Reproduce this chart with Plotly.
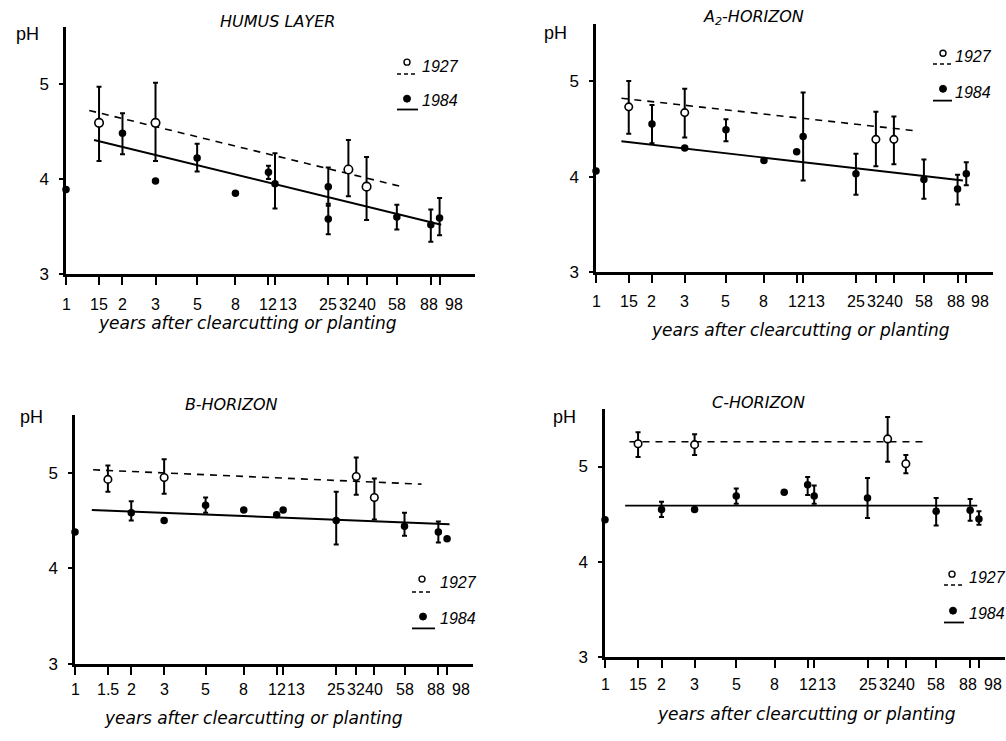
import math
import plotly.graph_objects as go

# ---------------- data ----------------
TICK_VALS = [1, 1.5, 2, 3, 5, 8, 12, 13, 25, 32, 40, 58, 88, 98]
TICK_TEXT = ["1", "15", "2", "3", "5", "8", "12", "13", "25", "32", "40", "58", "88", "98"]
TICK_TEXT_B = ["1", "1.5", "2", "3", "5", "8", "12", "13", "25", "32", "40", "58", "88", "98"]
Y_TICKS = [3, 4, 5]

# Humus layer
humus_1927_x = [1.5, 3, 32, 40]
humus_1927_y = [4.59, 4.59, 4.10, 3.92]
humus_1927_hi = [4.97, 5.01, 4.41, 4.23]
humus_1927_lo = [4.19, 4.19, 3.82, 3.57]
humus_1984_x = [1, 2, 3, 5, 8, 12, 13, 25, 25, 58, 88, 98]
humus_1984_y = [3.89, 4.48, 3.98, 4.22, 3.85, 4.07, 3.95, 3.92, 3.58, 3.60, 3.52, 3.59]
humus_1984_hi = [3.89, 4.69, 3.98, 4.37, 3.85, 4.14, 4.27, 4.12, 3.74, 3.73, 3.68, 3.80]
humus_1984_lo = [3.89, 4.26, 3.98, 4.08, 3.85, 4.00, 3.69, 3.72, 3.42, 3.47, 3.34, 3.41]
humus_fit27_x = [1.33, 61.5]
humus_fit27_y = [4.72, 3.92]
humus_fit84_x = [1.41, 100]
humus_fit84_y = [4.41, 3.52]

# A2-horizon
a2_1927_x = [1.5, 3, 32, 40]
a2_1927_y = [4.73, 4.67, 4.39, 4.39]
a2_1927_hi = [5.00, 4.92, 4.68, 4.63]
a2_1927_lo = [4.45, 4.41, 4.11, 4.13]
a2_1984_x = [1, 2, 3, 5, 8, 12, 13, 25, 58, 88, 98]
a2_1984_y = [4.06, 4.55, 4.30, 4.49, 4.17, 4.26, 4.42, 4.03, 3.97, 3.87, 4.03]
a2_1984_hi = [4.06, 4.75, 4.30, 4.60, 4.17, 4.26, 4.88, 4.24, 4.18, 4.02, 4.15]
a2_1984_lo = [4.06, 4.35, 4.30, 4.37, 4.17, 4.26, 3.96, 3.81, 3.77, 3.71, 3.91]
a2_fit27_x = [1.37, 52]
a2_fit27_y = [4.82, 4.48]
a2_fit84_x = [1.37, 94]
a2_fit84_y = [4.37, 3.96]

# B-horizon
b_1927_x = [1.5, 3, 32, 40]
b_1927_y = [4.93, 4.95, 4.96, 4.74]
b_1927_hi = [5.075, 5.14, 5.16, 4.94]
b_1927_lo = [4.80, 4.78, 4.77, 4.51]
b_1984_x = [1, 2, 3, 5, 8, 12, 13, 25, 58, 88, 98]
b_1984_y = [4.38, 4.58, 4.50, 4.66, 4.61, 4.56, 4.61, 4.50, 4.44, 4.38, 4.31]
b_1984_hi = [4.38, 4.70, 4.50, 4.74, 4.61, 4.56, 4.61, 4.80, 4.58, 4.49, 4.31]
b_1984_lo = [4.38, 4.50, 4.50, 4.58, 4.61, 4.56, 4.61, 4.25, 4.34, 4.27, 4.31]
b_fit27_x = [1.25, 71.5]
b_fit27_y = [5.03, 4.88]
b_fit84_x = [1.23, 101]
b_fit84_y = [4.61, 4.46]

# C-horizon
c_1927_x = [1.5, 3, 32, 40]
c_1927_y = [5.24, 5.23, 5.29, 5.03]
c_1927_hi = [5.36, 5.34, 5.52, 5.12]
c_1927_lo = [5.10, 5.12, 5.05, 4.93]
c_1984_x = [1, 2, 3, 5, 9, 12, 13, 25, 58, 88, 98]
c_1984_y = [4.44, 4.55, 4.55, 4.69, 4.73, 4.81, 4.69, 4.67, 4.53, 4.54, 4.45]
c_1984_hi = [4.44, 4.63, 4.55, 4.77, 4.73, 4.89, 4.80, 4.88, 4.67, 4.66, 4.53]
c_1984_lo = [4.44, 4.47, 4.55, 4.61, 4.73, 4.70, 4.61, 4.46, 4.38, 4.43, 4.39]
c_fit27_x = [1.35, 50]
c_fit27_y = [5.26, 5.26]
c_fit84_x = [1.28, 96]
c_fit84_y = [4.59, 4.59]

TITLES = ["HUMUS LAYER", "A<sub>2</sub>-HORIZON", "B-HORIZON", "C-HORIZON"]
X_TITLE = "years after clearcutting or planting"
Y_TITLE = "pH"
SERIES_NAMES = ["1927", "1984"]

# ---------------- layout / styling ----------------
W, H = 1006, 741
LABEL_FAMILY = "Liberation Sans, Arial, sans-serif"
TICK_FONT = dict(family=LABEL_FAMILY, size=16, color="black")
ITAL_FONT = "DejaVu Sans, sans-serif"
LABEL_SHIFT = {12: 0, 13: 13, 88: -2, 98: 14}


def px(x):
    return x / W


def py(y):
    return 1 - y / H


panels = [
    dict(d27=(humus_1927_x, humus_1927_y, humus_1927_hi, humus_1927_lo),
         d84=(humus_1984_x, humus_1984_y, humus_1984_hi, humus_1984_lo),
         f27=(humus_fit27_x, humus_fit27_y), f84=(humus_fit84_x, humus_fit84_y),
         xdom=(66, 475), ydom=(27, 278), xmax=2.18, ticktext=TICK_TEXT, osize=8.5,
         title=(277, 22), ph=(27, 34), xtitle=(247, 327), lab_dy=30,
         leg=dict(o=(407, 63), dash=(397, 417, 75), f=(407, 100), line=(397, 418, 111),
                  t27=(440, 67), t84=(440, 102))),
    dict(d27=(a2_1927_x, a2_1927_y, a2_1927_hi, a2_1927_lo),
         d84=(a2_1984_x, a2_1984_y, a2_1984_hi, a2_1984_lo),
         f27=(a2_fit27_x, a2_fit27_y), f84=(a2_fit84_x, a2_fit84_y),
         xdom=(596, 993), ydom=(24, 276), xmax=2.135, ticktext=TICK_TEXT, osize=7.5,
         title=(753, 18), ph=(555, 33), xtitle=(800, 335), lab_dy=29,
         leg=dict(o=(943, 54), dash=(933, 952, 65), f=(943, 90), line=(933, 952, 102),
                  t27=(973, 57), t84=(973, 94))),
    dict(d27=(b_1927_x, b_1927_y, b_1927_hi, b_1927_lo),
         d84=(b_1984_x, b_1984_y, b_1984_hi, b_1984_lo),
         f27=(b_fit27_x, b_fit27_y), f84=(b_fit84_x, b_fit84_y),
         xdom=(75, 473), ydom=(421, 673), xmax=2.13, ticktext=TICK_TEXT_B, osize=7.5,
         title=(231, 410), ph=(31, 423), xtitle=(253, 728), lab_dy=26,
         leg=dict(o=(422, 587), dash=(412, 432, 600), f=(423, 625), line=(412, 435, 637),
                  t27=(458, 590), t84=(458, 627))),
    dict(d27=(c_1927_x, c_1927_y, c_1927_hi, c_1927_lo),
         d84=(c_1984_x, c_1984_y, c_1984_hi, c_1984_lo),
         f27=(c_fit27_x, c_fit27_y), f84=(c_fit84_x, c_fit84_y),
         xdom=(605, 1005), ydom=(415, 666), xmax=2.13, ticktext=TICK_TEXT, osize=7.5,
         title=(758, 408), ph=(564, 423), xtitle=(806, 724), lab_dy=27,
         leg=dict(o=(952, 582), dash=(944, 962, 593), f=(953, 619), line=(944, 964, 631),
                  t27=(987, 585), t84=(987, 622))),
]

fig = go.Figure()
annotations = []
shapes = []
layout_axes = {}

for i, p in enumerate(panels, start=1):
    sfx = "" if i == 1 else str(i)
    xa, ya = "x" + sfx, "y" + sfx

    fx, fy = p["f27"]
    fig.add_trace(go.Scatter(x=fx, y=fy, mode="lines", xaxis=xa, yaxis=ya,
                             line=dict(color="black", width=1.6, dash="7px,6px"),
                             showlegend=False, hoverinfo="skip"))
    fx, fy = p["f84"]
    fig.add_trace(go.Scatter(x=fx, y=fy, mode="lines", xaxis=xa, yaxis=ya,
                             line=dict(color="black", width=1.9),
                             showlegend=False, hoverinfo="skip"))

    x84, y84, hi84, lo84 = p["d84"]
    fig.add_trace(go.Scatter(
        x=x84, y=y84, mode="markers", xaxis=xa, yaxis=ya, cliponaxis=False,
        name=SERIES_NAMES[1], showlegend=False,
        marker=dict(symbol="circle", size=7.5, color="black"),
        error_y=dict(type="data", symmetric=False,
                     array=[h - v for h, v in zip(hi84, y84)],
                     arrayminus=[v - l for v, l in zip(y84, lo84)],
                     color="black", thickness=2, width=2.5)))

    x27, y27, hi27, lo27 = p["d27"]
    fig.add_trace(go.Scatter(
        x=x27, y=y27, mode="markers", xaxis=xa, yaxis=ya, cliponaxis=False,
        name=SERIES_NAMES[0], showlegend=False,
        marker=dict(symbol="circle", size=p["osize"], color="white",
                    line=dict(color="black", width=1.6)),
        error_y=dict(type="data", symmetric=False,
                     array=[h - v for h, v in zip(hi27, y27)],
                     arrayminus=[v - l for v, l in zip(y27, lo27)],
                     color="black", thickness=2, width=2.5)))

    x0, x1 = p["xdom"]
    yt, yb = p["ydom"]
    layout_axes["xaxis" + sfx] = dict(
        type="log", domain=[px(x0), px(x1)], range=[0, p["xmax"]], anchor=ya,
        tickmode="array", tickvals=TICK_VALS, showticklabels=False,
        ticks="outside", ticklen=8, tickwidth=2, tickcolor="black",
        showline=True, linecolor="black", linewidth=2.5,
        showgrid=False, zeroline=False)
    layout_axes["yaxis" + sfx] = dict(
        domain=[py(yb), py(yt)], range=[3, 5.6], anchor=xa,
        tickmode="array", tickvals=Y_TICKS, ticks="outside", ticklen=4,
        tickwidth=1.5, tickcolor="black", tickfont=dict(family=LABEL_FAMILY, size=17, color="black"),
        ticklabelstandoff=7,
        showline=True, linecolor="black", linewidth=2.5,
        showgrid=False, zeroline=False)

    # x tick labels (positioned through the axis scale)
    for v, t in zip(TICK_VALS, p["ticktext"]):
        annotations.append(dict(
            x=math.log10(v), xref=xa, y=0, yref=ya + " domain",
            text=t, showarrow=False, xanchor="center", yanchor="middle",
            xshift=LABEL_SHIFT.get(v, 0), yshift=-p["lab_dy"],
            font=TICK_FONT))

    # titles
    tx, ty = p["title"]
    annotations.append(dict(x=px(tx), y=py(ty), xref="paper", yref="paper",
                            text="<i>" + TITLES[i - 1] + "</i>", showarrow=False,
                            xanchor="center", yanchor="middle",
                            font=dict(family=ITAL_FONT, size=16, color="black")))
    hx, hy = p["ph"]
    annotations.append(dict(x=px(hx), y=py(hy), xref="paper", yref="paper",
                            text=Y_TITLE, showarrow=False, xanchor="center", yanchor="middle",
                            font=dict(family=LABEL_FAMILY, size=18, color="black")))
    gx, gy = p["xtitle"]
    annotations.append(dict(x=px(gx), y=py(gy), xref="paper", yref="paper",
                            text="<i>" + X_TITLE + "</i>", showarrow=False,
                            xanchor="center", yanchor="middle",
                            font=dict(family=ITAL_FONT, size=17, color="black")))

    # legend
    lg = p["leg"]
    ox, oy = lg["o"]
    shapes.append(dict(type="circle", xref="paper", yref="paper",
                       xsizemode="pixel", ysizemode="pixel",
                       xanchor=px(ox), yanchor=py(oy), x0=-3, x1=3, y0=-3, y1=3,
                       line=dict(color="black", width=1.4), fillcolor="white"))
    dx0, dx1, dy = lg["dash"]
    shapes.append(dict(type="line", xref="paper", yref="paper",
                       x0=px(dx0), x1=px(dx1), y0=py(dy), y1=py(dy),
                       line=dict(color="black", width=1.5, dash="4px,3px")))
    fx_, fy_ = lg["f"]
    shapes.append(dict(type="circle", xref="paper", yref="paper",
                       xsizemode="pixel", ysizemode="pixel",
                       xanchor=px(fx_), yanchor=py(fy_), x0=-3.5, x1=3.5, y0=-3.5, y1=3.5,
                       line=dict(color="black", width=1), fillcolor="black"))
    lx0, lx1, ly = lg["line"]
    shapes.append(dict(type="line", xref="paper", yref="paper",
                       x0=px(lx0), x1=px(lx1), y0=py(ly), y1=py(ly),
                       line=dict(color="black", width=1.8)))
    for key, name in (("t27", SERIES_NAMES[0]), ("t84", SERIES_NAMES[1])):
        ax_, ay_ = lg[key]
        annotations.append(dict(x=px(ax_), y=py(ay_), xref="paper", yref="paper",
                                text="<i>" + name + "</i>", showarrow=False,
                                xanchor="center", yanchor="middle",
                                font=dict(family=LABEL_FAMILY, size=16, color="black")))

fig.update_layout(
    width=W, height=H, autosize=False,
    margin=dict(l=0, r=0, t=0, b=0),
    paper_bgcolor="white", plot_bgcolor="white",
    showlegend=False,
    annotations=annotations, shapes=shapes,
    **layout_axes)

fig.write_html("out.html")
